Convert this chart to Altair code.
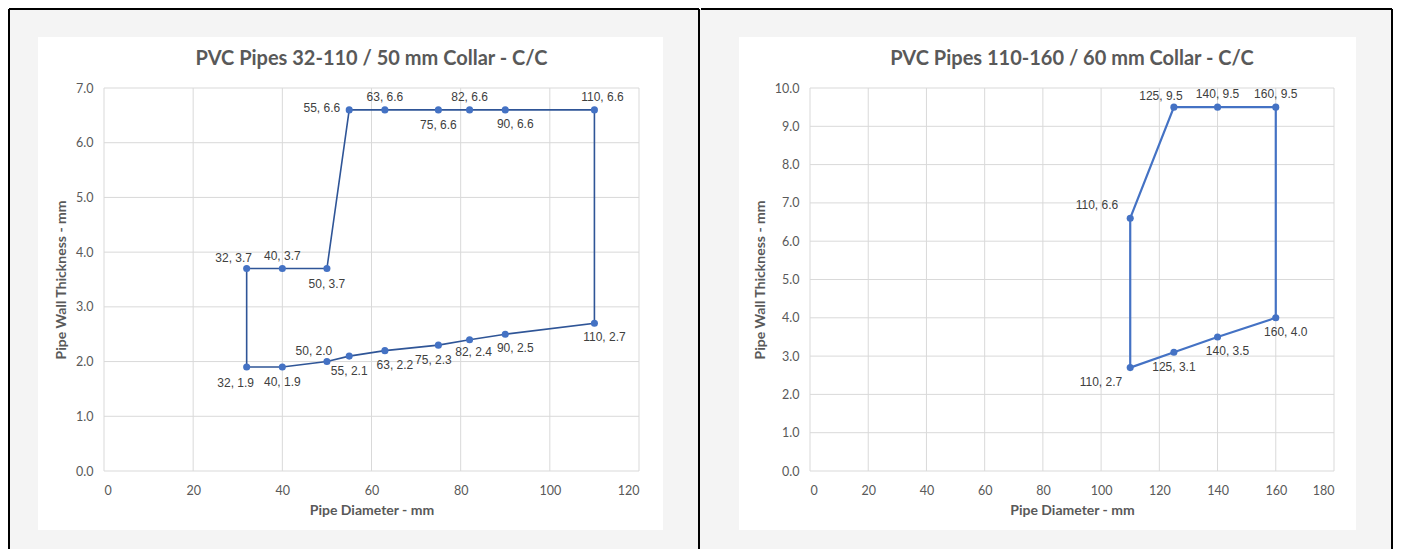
import altair as alt
import pandas as pd

# ---------------- data ----------------
left_x = [32, 40, 50, 55, 63, 75, 82, 90, 110, 110, 90, 82, 75, 63, 55, 50, 40, 32]
left_y = [3.7, 3.7, 3.7, 6.6, 6.6, 6.6, 6.6, 6.6, 6.6, 2.7, 2.5, 2.4, 2.3, 2.2, 2.1, 2.0, 1.9, 1.9]
left_pos = ["NW", "N", "S", "W", "N", "S", "N", "SE", "NE", "SE", "SE", "SSE", "SSW", "SE", "S", "NW", "S", "SW"]
left_xticks = [0, 20, 40, 60, 80, 100, 120]
left_yticks = [0, 1, 2, 3, 4, 5, 6, 7]
left_title = "PVC Pipes 32-110 / 50 mm Collar - C/C"

right_x = [110, 125, 140, 160, 160, 140, 125, 110]
right_y = [6.6, 9.5, 9.5, 9.5, 4.0, 3.5, 3.1, 2.7]
right_pos = ["WNW", "NW", "N", "N", "SE", "SE", "S", "WSW"]
right_xticks = [0, 20, 40, 60, 80, 100, 120, 140, 160, 180]
right_yticks = [0, 1, 2, 3, 4, 5, 6, 7, 8, 9, 10]
right_title = "PVC Pipes 110-160 / 60 mm Collar - C/C"

x_title = "Pipe Diameter - mm"
y_title = "Pipe Wall Thickness - mm"

# label placement styles: (dx, dy, align)
PLACE = {
    "N": (0, -13, "center"),
    "S": (0, 15, "center"),
    "SSW": (-5, 15, "center"),
    "SSE": (4, 12, "center"),
    "NE": (8, -13, "center"),
    "SE": (10, 14, "center"),
    "NW": (-13, -11, "center"),
    "SW": (-11, 16, "center"),
    "W": (-9, -2, "right"),
    "WNW": (-12, -13, "right"),
    "WSW": (-8, 14, "right"),
}

GRID = "#d9d9d9"
TEXT_GRAY = "#595959"
ONE = pd.DataFrame({"a": [0]})


def panel(xs, ys, pos, xticks, yticks, title, width, height, line_color, line_width,
          bg_l, bg_r, white_l, white_r, draw_left_border):
    pts = pd.DataFrame({
        "x": xs, "y": ys, "pos": pos,
        "label": [f"{a}, {b:.1f}" for a, b in zip(xs, ys)],
        "k": list(range(len(xs))),
    })
    loop = pd.concat([pts, pts.iloc[[0]].assign(k=len(xs))], ignore_index=True)

    xs_scale = alt.Scale(domain=[xticks[0], xticks[-1]], nice=False, zero=True)
    ys_scale = alt.Scale(domain=[yticks[0], yticks[-1]], nice=False, zero=True)
    X = alt.X("x:Q", scale=xs_scale,
              axis=alt.Axis(values=xticks, title=x_title, grid=False, domain=False,
                            ticks=False, zindex=1, labelPadding=13, titlePadding=7))
    Y = alt.Y("y:Q", scale=ys_scale,
              axis=alt.Axis(values=yticks, format=".1f", title=y_title, grid=False,
                            domain=False, ticks=False, zindex=1, labelPadding=11,
                            titlePadding=7))

    top, bottom = -79, 461
    bg = alt.Chart(ONE).mark_rect(fill="#f4f4f4").encode(
        x=alt.value(bg_l), x2=alt.value(bg_r), y=alt.value(top), y2=alt.value(bottom))
    white = alt.Chart(ONE).mark_rect(fill="white").encode(
        x=alt.value(white_l), x2=alt.value(white_r), y=alt.value(-51), y2=alt.value(442))
    borders = [
        alt.Chart(ONE).mark_rule(color="black", strokeWidth=2).encode(
            x=alt.value(bg_l + 1), x2=alt.value(bg_r - 1), y=alt.value(top)),
        alt.Chart(ONE).mark_rule(color="black", strokeWidth=2).encode(
            x=alt.value(bg_r - 1), y=alt.value(top), y2=alt.value(bottom)),
    ]
    if draw_left_border:
        borders.append(alt.Chart(ONE).mark_rule(color="black", strokeWidth=2).encode(
            x=alt.value(bg_l + 1), y=alt.value(top), y2=alt.value(bottom)))

    hgrid = alt.Chart(pd.DataFrame({"y": yticks})).mark_rule(color=GRID, strokeWidth=1).encode(y=Y)
    vgrid = alt.Chart(pd.DataFrame({"x": xticks})).mark_rule(color=GRID, strokeWidth=1).encode(x=X)

    line = alt.Chart(loop).mark_line(color=line_color, strokeWidth=line_width).encode(
        x=X, y=Y, order="k:Q")
    dots = alt.Chart(pts).mark_circle(size=50, color="#4472C4", opacity=1).encode(x=X, y=Y)

    labels = []
    for code in sorted(set(pos)):
        dx, dy, al = PLACE[code]
        labels.append(
            alt.Chart(pts).transform_filter(alt.datum.pos == code).mark_text(
                dx=dx, dy=dy, align=al, baseline="middle", font="Liberation Sans",
                fontSize=12, color="#404040").encode(x=X, y=Y, text="label:N"))

    ttl = alt.Chart(ONE).mark_text(
        text=title, font="Lato", fontSize=20, fontWeight="bold", color=TEXT_GRAY,
        align="center", baseline="middle").encode(
        x=alt.value(width / 2), y=alt.value(-29))

    return alt.layer(bg, white, *borders, hgrid, vgrid, line, dots, *labels, ttl).properties(
        width=width, height=height)


left = panel(left_x, left_y, left_pos, left_xticks, left_yticks, left_title, 535, 383,
             "#2f5597", 1.6, -96, 596, -66, 559, True)
right = panel(right_x, right_y, right_pos, right_xticks, right_yticks, right_title, 524, 383,
              "#4472C4", 2.2, -110, 583, -71, 546, False)

chart = alt.hconcat(left, right, spacing=0).properties(padding=0).configure_view(
    stroke=None).configure_axis(
    labelFont="Lato", labelFontSize=12.5, labelColor=TEXT_GRAY,
    titleFont="Lato", titleFontSize=14, titleFontWeight="bold", titleColor=TEXT_GRAY)

chart.save("out.html", embed_options={"renderer": "svg", "actions": False})
